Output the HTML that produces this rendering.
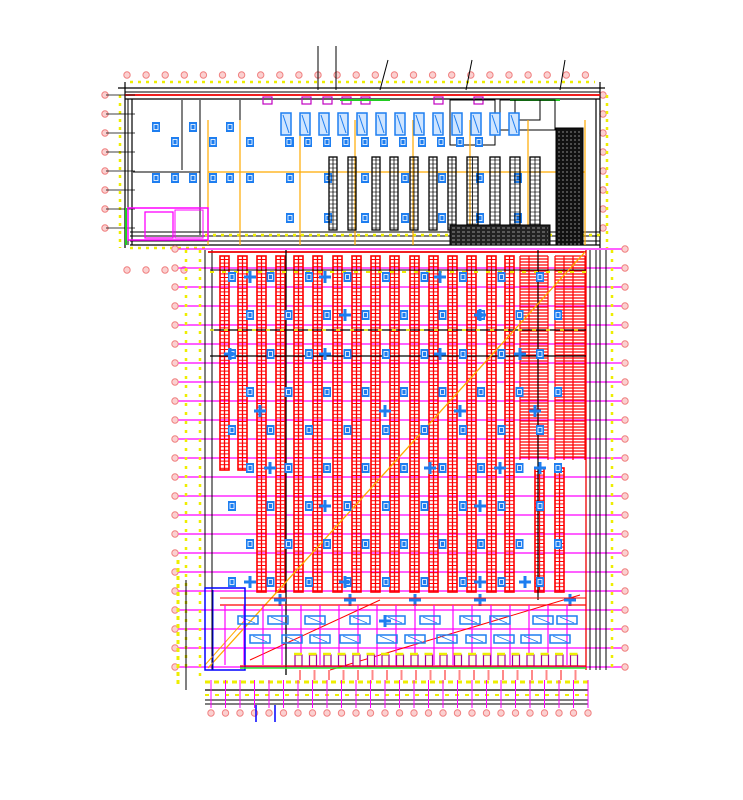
<!DOCTYPE html>
<html><head><meta charset="utf-8"><style>html,body{margin:0;padding:0;background:#fff;width:743px;height:800px;overflow:hidden}svg{display:block}</style></head>
<body>
<svg id="s" width="743" height="800" viewBox="0 0 743 800" xmlns="http://www.w3.org/2000/svg"></svg>
<script>
var o=[];
function L(x1,y1,x2,y2,c,w,d){o.push('<line x1="'+x1+'" y1="'+y1+'" x2="'+x2+'" y2="'+y2+'" stroke="'+c+'" stroke-width="'+(w||1)+'"'+(d?' stroke-dasharray="'+d+'"':'')+'/>');}
function R(x,y,w,h,c,f,sw){o.push('<rect x="'+x+'" y="'+y+'" width="'+w+'" height="'+h+'" stroke="'+c+'" fill="'+(f||'none')+'" stroke-width="'+(sw||1)+'"/>');}
function C(x,y,r,c,f){o.push('<circle cx="'+x+'" cy="'+y+'" r="'+r+'" stroke="'+c+'" fill="'+(f||'none')+'"/>');}
function bub(x,y){C(x,y,3.2,'#f08080','#fbd0d0');}
function icon(x,y){R(x-3.5,y-4.5,7,9,'#1e7ef0','#1e7ef0');R(x-2,y-2.5,4,5,'#fff','none',0.8);}
function plus(x,y){o.push('<path d="M'+(x-6)+' '+y+' L'+(x+6)+' '+y+' M'+x+' '+(y-6)+' L'+x+' '+(y+6)+'" stroke="#1e7ef0" stroke-width="3"/>');}
// ===== TOP BUILDING =====
for(var x=127;x<=590;x+=19.1)bub(x,75);
for(var y=95;y<=236;y+=19)bub(105,y),bub(603,y);
L(125,82,125,248,'#000',1.2);L(600,82,600,248,'#000',1.2);
L(118,88,605,88,'#000',1.2);L(125,92,600,92,'#000',1);L(125,95,600,95,'#e00',1.8);L(125,99,600,99,'#000',1.2);
L(132,99,132,245,'#000',1.2);L(128,99,128,245,'#000',1);L(596,99,596,245,'#000',1.2);
L(120,95,120,248,'#ee0',2.5,'3,5');L(607,95,607,248,'#ee0',2.5,'3,5');L(130,82,595,82,'#ee0',2.5,'3,5');
L(130,232,600,232,'#000',1);L(130,236,600,236,'#000',1);L(130,241,600,241,'#000',1);L(130,245,600,245,'#000',1.3);
L(205,235,600,235,'#ee0',2.5,'3,5');L(130,248,210,248,'#ee0',2.5,'3,5');
for(var y=95;y<=236;y+=19)L(106,y,135,y,'#000',0.8);
L(200,100,200,235,'#000',1);L(182,100,182,170,'#000',1);L(240,100,240,175,'#000',1);L(133,172,200,172,'#000',1);
// top vertical dims
L(318,46,318,90,'#000',1);L(336,46,336,90,'#000',1);L(388,60,380,90,'#000',1);L(472,60,466,90,'#000',1);L(565,60,560,90,'#000',1);
[263,302,323,342,361,434,474].forEach(function(x){R(x,97,9,7,'#c000c0','none',1.2)});
L(340,100,390,100,'#2c2',2);L(510,100,560,100,'#2c2',2);
R(450,100,45,45,'#000');R(500,100,55,30,'#000');R(515,100,25,20,'#000');
[208,240,300,355,413,470,528,585].forEach(function(x){L(x,120,x,245,'#fa0',1.2)});
L(208,172,585,172,'#fa0',1.2);
for(var i=0;i<13;i++){var x=286+i*19;R(x-5,113,10,22,'#1e7ef0','#cfe5ff',1.5);L(x-3,115,x+3,133,'#1e7ef0',1);}
[156,193,230].forEach(function(x){icon(x,127);icon(x,178);});
[175,213,250,290].forEach(function(x){icon(x,142);});
for(var i=0;i<11;i++){icon(289+i*19,142);}
[175,213,250,290,328,365,405,442,480,518].forEach(function(x){icon(x,178);});
[290,328,365,405,442,480,518].forEach(function(x){icon(x,218);});
[[329,337],[348,356],[372,380],[390,398],[410,418],[429,437],[448,456],[467,478],[490,500],[510,520],[530,540]].forEach(function(p){
 R(p[0],157,p[1]-p[0],73,'#000','none',1.3);L((p[0]+p[1])/2,157,(p[0]+p[1])/2,230,'#000',0.8);for(var y=160;y<230;y+=4)L(p[0],y,p[1],y,'#000',0.6);});
R(556,128,27,117,'#000','#111');for(var y=132;y<245;y+=4)L(558,y,581,y,'#fff',0.6,'2,2');
R(450,225,100,20,'#000','#222');for(var y=228;y<245;y+=4)L(452,y,548,y,'#fff',0.6,'3,2');
R(128,208,80,32,'#f0f','none',1.5);R(145,212,28,26,'#f0f','none',1.3);R(175,210,28,28,'#f0f','none',1);L(126,208,126,245,'#2c2',2);
for(var x=127;x<=200;x+=19)bub(x,270);
// ===== LOWER WAREHOUSE =====
var Y0=249;
for(var i=0;i<23;i++){var y=Y0+i*19;L(178,y,625,y,'#f0f',1.3);bub(175,y);bub(625,y);}
L(205,250,205,670,'#000',1);L(212,250,212,670,'#000',1);L(586,250,586,670,'#e00',1.3);L(208,252,586,252,'#e00',1.8);
L(590,250,590,670,'#000',1);L(596,250,596,670,'#000',1);L(600,250,600,670,'#000',1);L(606,250,606,670,'#000',1);
L(612,250,612,670,'#ee0',2.5,'3,6');L(200,250,200,680,'#ee0',2.5,'3,6');L(186,250,186,670,'#ee0',2.5,'3,6');
function rack(x,y1,y2){R(x,y1,9,y2-y1,'#f00','none',1.6);L(x+4.5,y1,x+4.5,y2,'#f00',1.3);for(var y=y1+3.5;y<y2;y+=3.6)L(x,y,x+9,y,'#f00',1);}
var rx=[220,238,257,276,294,313,333,352,371,390,410,429,448,467,487,505];
rx.forEach(function(x,i){rack(x,256,(i<2)?470:592);});
rack(535,468,592);rack(555,468,592);
[[520,548],[555,585]].forEach(function(p){for(var y=256;y<460;y+=3)L(p[0],y,p[1],y,'#f00',1.2);[p[0],p[0]+9,p[0]+18,p[1]].forEach(function(x){L(x,256,x,460,'#f00',1.2)});});
L(210,270,586,270,'#000',1);L(210,330,586,330,'#000',1.2);L(210,356,586,356,'#000',1.2);L(286,250,286,675,'#000',1.3);L(538,250,538,600,'#000',1.2);
L(210,272,586,272,'#ee0',2,'4,8');L(210,330,586,330,'#ee0',1.5,'4,10');
L(208,668,585,252,'#fa0',1.3);L(205,665,245,620,'#fa0',1);
L(250,660,380,600,'#f00',1);L(330,670,580,595,'#f00',1);
var rows=[277,315,354,392,430,468,506,544,582];
rows.forEach(function(y,ri){for(var k=0;k<10;k++){var x=(ri%2?250:232)+k*38.5;if(x<565)icon(x,y);} });
[[250,277],[325,277],[440,277],[480,315],[345,315],[230,354],[325,354],[440,354],[520,354],[260,411],[385,411],[460,411],[535,411],[270,468],[430,468],[500,468],[540,468],[325,506],[480,506],[250,582],[345,582],[480,582],[525,582],[350,600],[280,600],[415,600],[480,600],[570,600],[385,621]].forEach(function(p){plus(p[0],p[1]);});
L(220,605,586,605,'#f00',1.2);L(220,598,586,598,'#f00',1);
for(var x=225;x<586;x+=19)L(x,605,x,665,'#f0f',1.2);
[248,278,315,360,395,430,470,500,543,567].forEach(function(x){R(x-10,616,20,8,'#1e7ef0','none',1.5);L(x-7,617,x+7,623,'#1e7ef0',0.8);});
[260,292,320,350,387,415,447,476,504,531,560].forEach(function(x){R(x-10,635,20,8,'#1e7ef0','none',1.5);L(x-7,636,x+7,642,'#1e7ef0',0.8);});
R(205,588,40,82,'#00f','none',1.5);L(213,590,213,670,'#00f',1);
for(var x=298;x<580;x+=14.5){R(x-3,655,7,11,'#a000a0','#ffe',1.2);L(x-4,654,x+4,654,'#ee0',2.5);}
L(240,666,586,666,'#e00',1.3);L(240,668,586,668,'#2e2',1.5);
for(var x=300;x<580;x+=14.5)L(x,670,x,680,'#f88',2);
L(205,682,588,682,'#ee0',3,'5,4');L(205,690,588,690,'#000',1.2);L(205,695,588,695,'#ee0',2,'4,6');L(205,700,588,700,'#000',1);L(205,704,588,704,'#000',1);
for(var x=211;x<=588;x+=14.5){L(x,680,x,708,'#f0f',1);bub(x,713);}
L(256,705,256,722,'#00f',1.5);L(275,705,275,722,'#00f',1.5);
L(178,560,178,688,'#ee0',3,'4,4');L(186,580,186,690,'#000',1);
document.getElementById('s').innerHTML=o.join('');
</script>
</body></html>
